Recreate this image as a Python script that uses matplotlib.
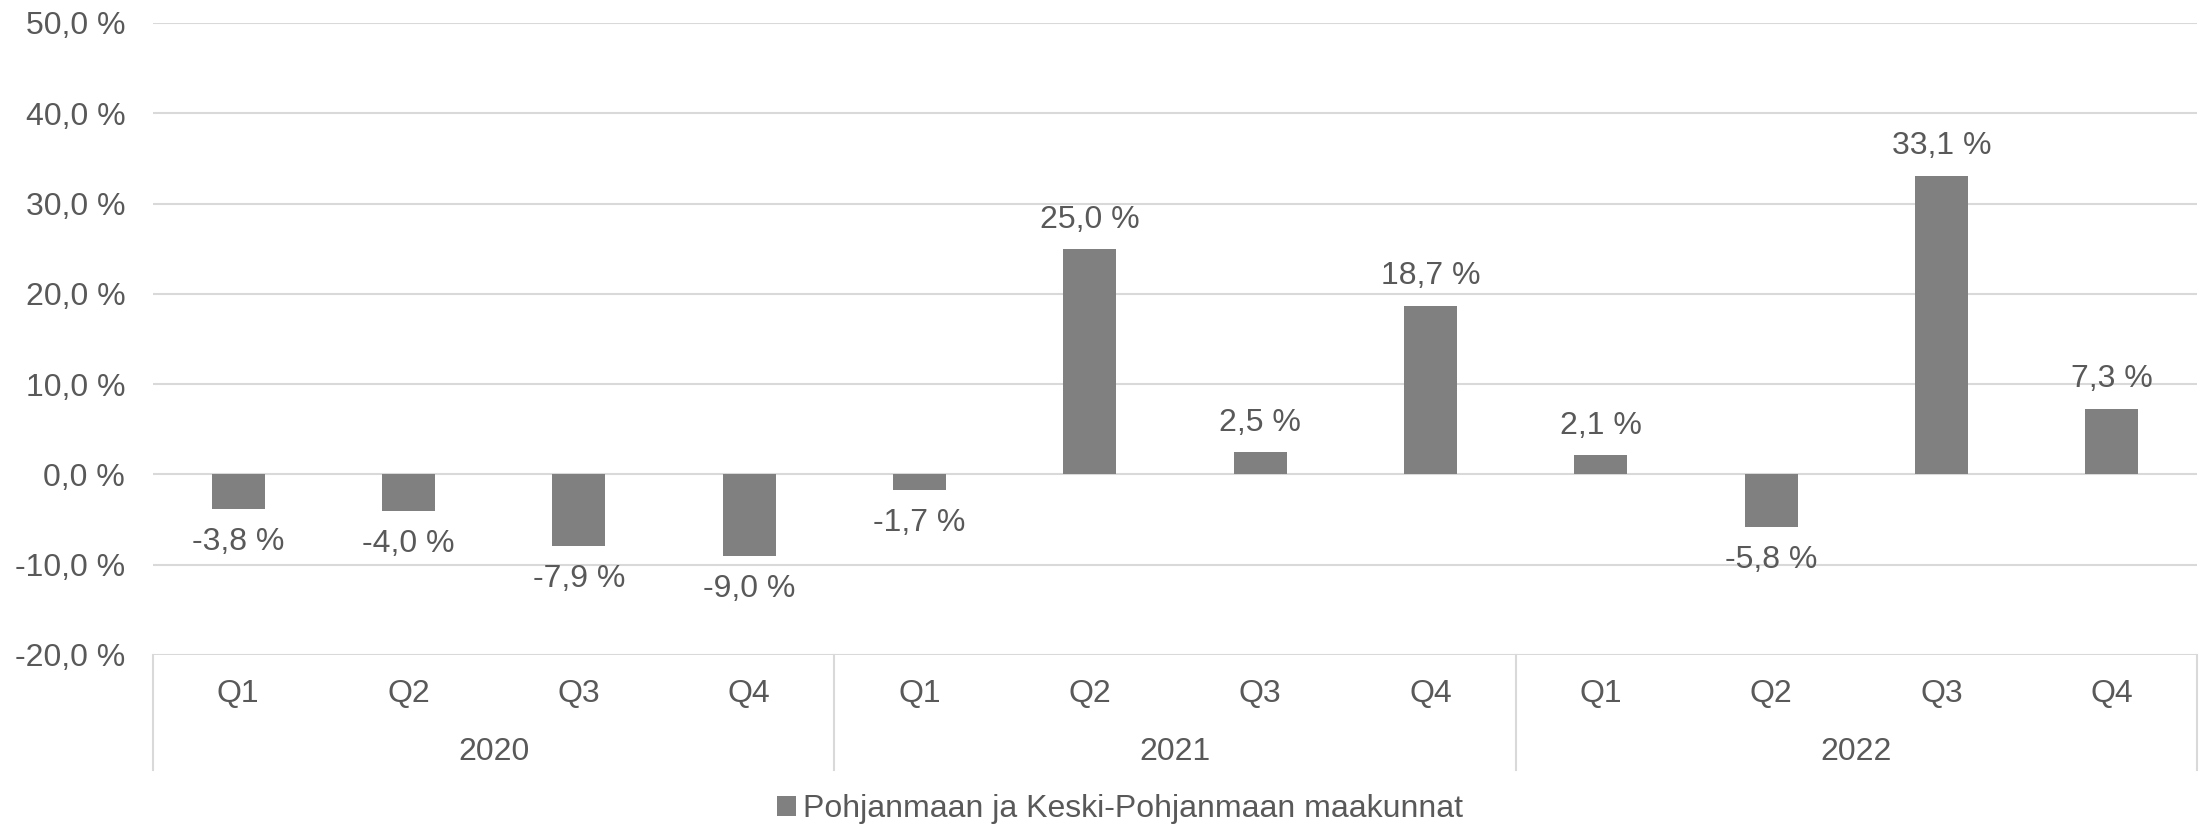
import matplotlib.pyplot as plt
import matplotlib.transforms as mtransforms
from matplotlib.patches import Patch

plt.rcParams['font.family'] = ['Liberation Sans', 'DejaVu Sans']

# neljännesvuosittainen muutos, %
quarters = ['Q1', 'Q2', 'Q3', 'Q4'] * 3
years = ['2020', '2021', '2022']
values = [-3.8, -4.0, -7.9, -9.0, -1.7, 25.0, 2.5, 18.7, 2.1, -5.8, 33.1, 7.3]
series_name = 'Pohjanmaan ja Keski-Pohjanmaan maakunnat'

text_col = '#595959'
bar_col = '#808080'
grid_col = '#d9d9d9'
fs = 23

fig = plt.figure(figsize=(22.11, 8.26), dpi=100)
ax = fig.add_axes([153 / 2211, (826 - 655) / 826, 2044 / 2211, 632 / 826])

x = list(range(len(values)))
ax.bar(x, values, width=0.31, color=bar_col, zorder=3)

ax.set_xlim(-0.5, len(values) - 0.5)
ax.set_ylim(-20, 50)
yt = list(range(-20, 51, 10))
ax.set_yticks(yt)
ax.set_yticklabels([f'{v:.1f} %'.replace('.', ',') for v in yt])
ax.yaxis.grid(True, color=grid_col, linewidth=1.5, zorder=0)
ax.tick_params(axis='y', length=0, pad=20, labelsize=fs, labelcolor=text_col)
ax.set_xticks([])
for s in ax.spines.values():
    s.set_visible(False)

# arvot pylväiden päihin
for xi, v in zip(x, values):
    lab = f'{v:.1f} %'.replace('.', ',')
    off = 21 if v >= 0 else -24
    ax.annotate(lab, (xi, v), xytext=(0, off), textcoords='offset points',
                ha='center', va='center', fontsize=fs, color=text_col)

# kaksitasoinen luokka-akseli
trans = mtransforms.blended_transform_factory(ax.transData, ax.transAxes)
for xi, q in zip(x, quarters):
    ax.text(xi, -0.061, q, transform=trans, ha='center', va='center',
            fontsize=fs, color=text_col)
for i, yr in enumerate(years):
    ax.text(i * 4 + 1.5, -0.153, yr, transform=trans, ha='center', va='center',
            fontsize=fs, color=text_col)
for b in [-0.5, 3.5, 7.5, 11.5]:
    ax.plot([b, b], [0, -0.182], transform=trans, color=grid_col,
            linewidth=1.5, clip_on=False)

handles = [Patch(facecolor=bar_col, edgecolor='none', label=series_name)]
fig.legend(handles=handles, loc='center', bbox_to_anchor=(1120 / 2211, 1 - 809 / 826),
           frameon=False, fontsize=fs, labelcolor=text_col, handlelength=0.6,
           handleheight=0.6, handletextpad=0.2)

fig.savefig('out.png', dpi=100)
